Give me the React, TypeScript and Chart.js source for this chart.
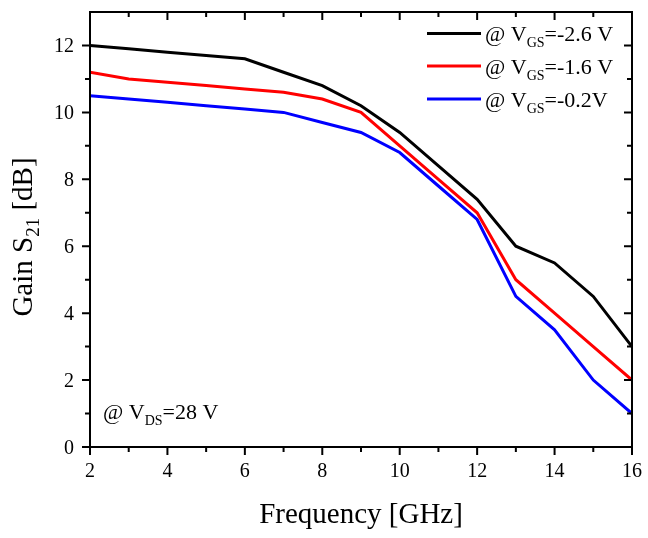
import React, { useEffect, useRef } from "react";
import { Chart, registerables } from "chart.js";

Chart.register(...registerables);

const frequency = [2, 3, 4, 5, 6, 7, 8, 9, 10, 11, 12, 13, 14, 15, 16];
const gainVgsNeg26 = [12.0, 11.9, 11.8, 11.7, 11.6, 11.2, 10.8, 10.2, 9.4, 8.4, 7.4, 6.0, 5.5, 4.5, 3.0];
const gainVgsNeg16 = [11.2, 11.0, 10.9, 10.8, 10.7, 10.6, 10.4, 10.0, 9.0, 8.0, 7.0, 5.0, 4.0, 3.0, 2.0];
const gainVgsNeg02 = [10.5, 10.4, 10.3, 10.2, 10.1, 10.0, 9.7, 9.4, 8.8, 7.8, 6.8, 4.5, 3.5, 2.0, 1.0];

const seriesLabels = ["-2.6 V", "-1.6 V", "-0.2V"];
const seriesColors = ["#000000", "#ff0000", "#0000ff"];

const xMajorTicks = [2, 4, 6, 8, 10, 12, 14, 16];
const xMinorTicks = [3, 5, 7, 9, 11, 13, 15];
const yMajorTicks = [0, 2, 4, 6, 8, 10, 12];
const yMinorTicks = [1, 3, 5, 7, 9, 11];

const FONT = "'Liberation Serif', 'Times New Roman', serif";

type Part = { t: string; sub?: boolean };

function drawRich(ctx: CanvasRenderingContext2D, parts: Part[], x: number, y: number, size: number, subSize: number, subDrop: number) {
  let cx = x;
  ctx.textBaseline = "alphabetic";
  ctx.textAlign = "left";
  for (const p of parts) {
    ctx.font = `${p.sub ? subSize : size}px ${FONT}`;
    ctx.fillText(p.t, cx, p.sub ? y + subDrop : y);
    cx += ctx.measureText(p.t).width;
  }
  return cx - x;
}

function measureRich(ctx: CanvasRenderingContext2D, parts: Part[], size: number, subSize: number) {
  let w = 0;
  for (const p of parts) {
    ctx.font = `${p.sub ? subSize : size}px ${FONT}`;
    w += ctx.measureText(p.t).width;
  }
  return w;
}

const decorPlugin = {
  id: "decor",
  afterDraw(chart: any) {
    const ctx: CanvasRenderingContext2D = chart.ctx;
    const { left, right, top, bottom } = chart.chartArea;
    const xs = chart.scales.x;
    const ys = chart.scales.y;
    ctx.save();
    ctx.strokeStyle = "#000";
    ctx.fillStyle = "#000";
    ctx.lineWidth = 2;
    ctx.strokeRect(left, top, right - left, bottom - top);
    const major = 8;
    const minor = 5;
    ctx.beginPath();
    for (const v of xMajorTicks) {
      const px = xs.getPixelForValue(v);
      ctx.moveTo(px, bottom); ctx.lineTo(px, bottom + major);
      ctx.moveTo(px, top); ctx.lineTo(px, top + major);
    }
    for (const v of xMinorTicks) {
      const px = xs.getPixelForValue(v);
      ctx.moveTo(px, bottom); ctx.lineTo(px, bottom + minor);
      ctx.moveTo(px, top); ctx.lineTo(px, top + minor);
    }
    for (const v of yMajorTicks) {
      const py = ys.getPixelForValue(v);
      ctx.moveTo(left, py); ctx.lineTo(left - major, py);
      ctx.moveTo(right, py); ctx.lineTo(right - major, py);
    }
    for (const v of yMinorTicks) {
      const py = ys.getPixelForValue(v);
      ctx.moveTo(left, py); ctx.lineTo(left - minor, py);
      ctx.moveTo(right, py); ctx.lineTo(right - minor, py);
    }
    ctx.stroke();

    // Tick labels
    ctx.fillStyle = "#000";
    ctx.font = `20px ${FONT}`;
    ctx.textBaseline = "alphabetic";
    ctx.textAlign = "center";
    for (const v of xMajorTicks) {
      ctx.fillText(String(v), xs.getPixelForValue(v), bottom + 30);
    }
    ctx.textAlign = "right";
    for (const v of yMajorTicks) {
      ctx.fillText(String(v), left - 16, ys.getPixelForValue(v) + 7);
    }

    // Legend
    const legendY = [33.5, 66, 99];
    for (let i = 0; i < seriesLabels.length; i++) {
      const y = legendY[i];
      ctx.strokeStyle = seriesColors[i];
      ctx.lineWidth = 3;
      ctx.beginPath();
      ctx.moveTo(427, y);
      ctx.lineTo(481, y);
      ctx.stroke();
      ctx.fillStyle = "#000";
      drawRich(ctx, [{ t: "@ V" }, { t: "GS", sub: true }, { t: "=" + seriesLabels[i] }], 485, y + 7.5, 22, 14, 6);
    }

    // Annotation
    drawRich(ctx, [{ t: "@ V" }, { t: "DS", sub: true }, { t: "=28 V" }], 103, 419, 22, 14, 6);

    // X title
    ctx.fillStyle = "#000";
    ctx.font = `29px ${FONT}`;
    ctx.textAlign = "center";
    ctx.textBaseline = "alphabetic";
    ctx.fillText("Frequency [GHz]", (left + right) / 2, 523);

    // Y title (rotated)
    const yParts: Part[] = [{ t: "Gain S" }, { t: "21", sub: true }, { t: " [dB]" }];
    const w = measureRich(ctx, yParts, 29, 19);
    ctx.translate(32, 237);
    ctx.rotate(-Math.PI / 2);
    drawRich(ctx, yParts, -w / 2, 0, 29, 19, 7);
    ctx.restore();
  },
};

export default function App() {
  const canvasRef = useRef<HTMLCanvasElement>(null);

  useEffect(() => {
    document.body.style.margin = "0";
    const canvas = canvasRef.current;
    if (!canvas) return;
    const mk = (vals: number[]) => frequency.map((f, i) => ({ x: f, y: vals[i] }));
    const chart = new Chart(canvas, {
      type: "line",
      data: {
        datasets: [
          { label: seriesLabels[0], data: mk(gainVgsNeg26), borderColor: seriesColors[0] },
          { label: seriesLabels[1], data: mk(gainVgsNeg16), borderColor: seriesColors[1] },
          { label: seriesLabels[2], data: mk(gainVgsNeg02), borderColor: seriesColors[2] },
        ].map((d) => ({ ...d, borderWidth: 3, pointRadius: 0, tension: 0, fill: false })),
      },
      options: {
        animation: false,
        responsive: false,
        maintainAspectRatio: false,
        layout: { padding: { top: 12, right: 16, left: 0, bottom: 0 } },
        plugins: { legend: { display: false }, tooltip: { enabled: false }, title: { display: false } },
        scales: {
          x: {
            type: "linear",
            min: 2,
            max: 16,
            ticks: { display: false },
            grid: { display: false },
            border: { display: false },
            afterFit: (scale: any) => {
              scale.height = 91;
            },
          },
          y: {
            type: "linear",
            min: 0,
            max: 13,
            ticks: { display: false },
            grid: { display: false },
            border: { display: false },
            afterFit: (scale: any) => {
              scale.width = 90;
            },
          },
        },
      },
      plugins: [decorPlugin],
    } as any);
    return () => chart.destroy();
  }, []);

  return (
    <div style={{ width: 648, height: 538, background: "#fff" }}>
      <canvas ref={canvasRef} width={648} height={538} style={{ width: 648, height: 538, display: "block" }} />
    </div>
  );
}
